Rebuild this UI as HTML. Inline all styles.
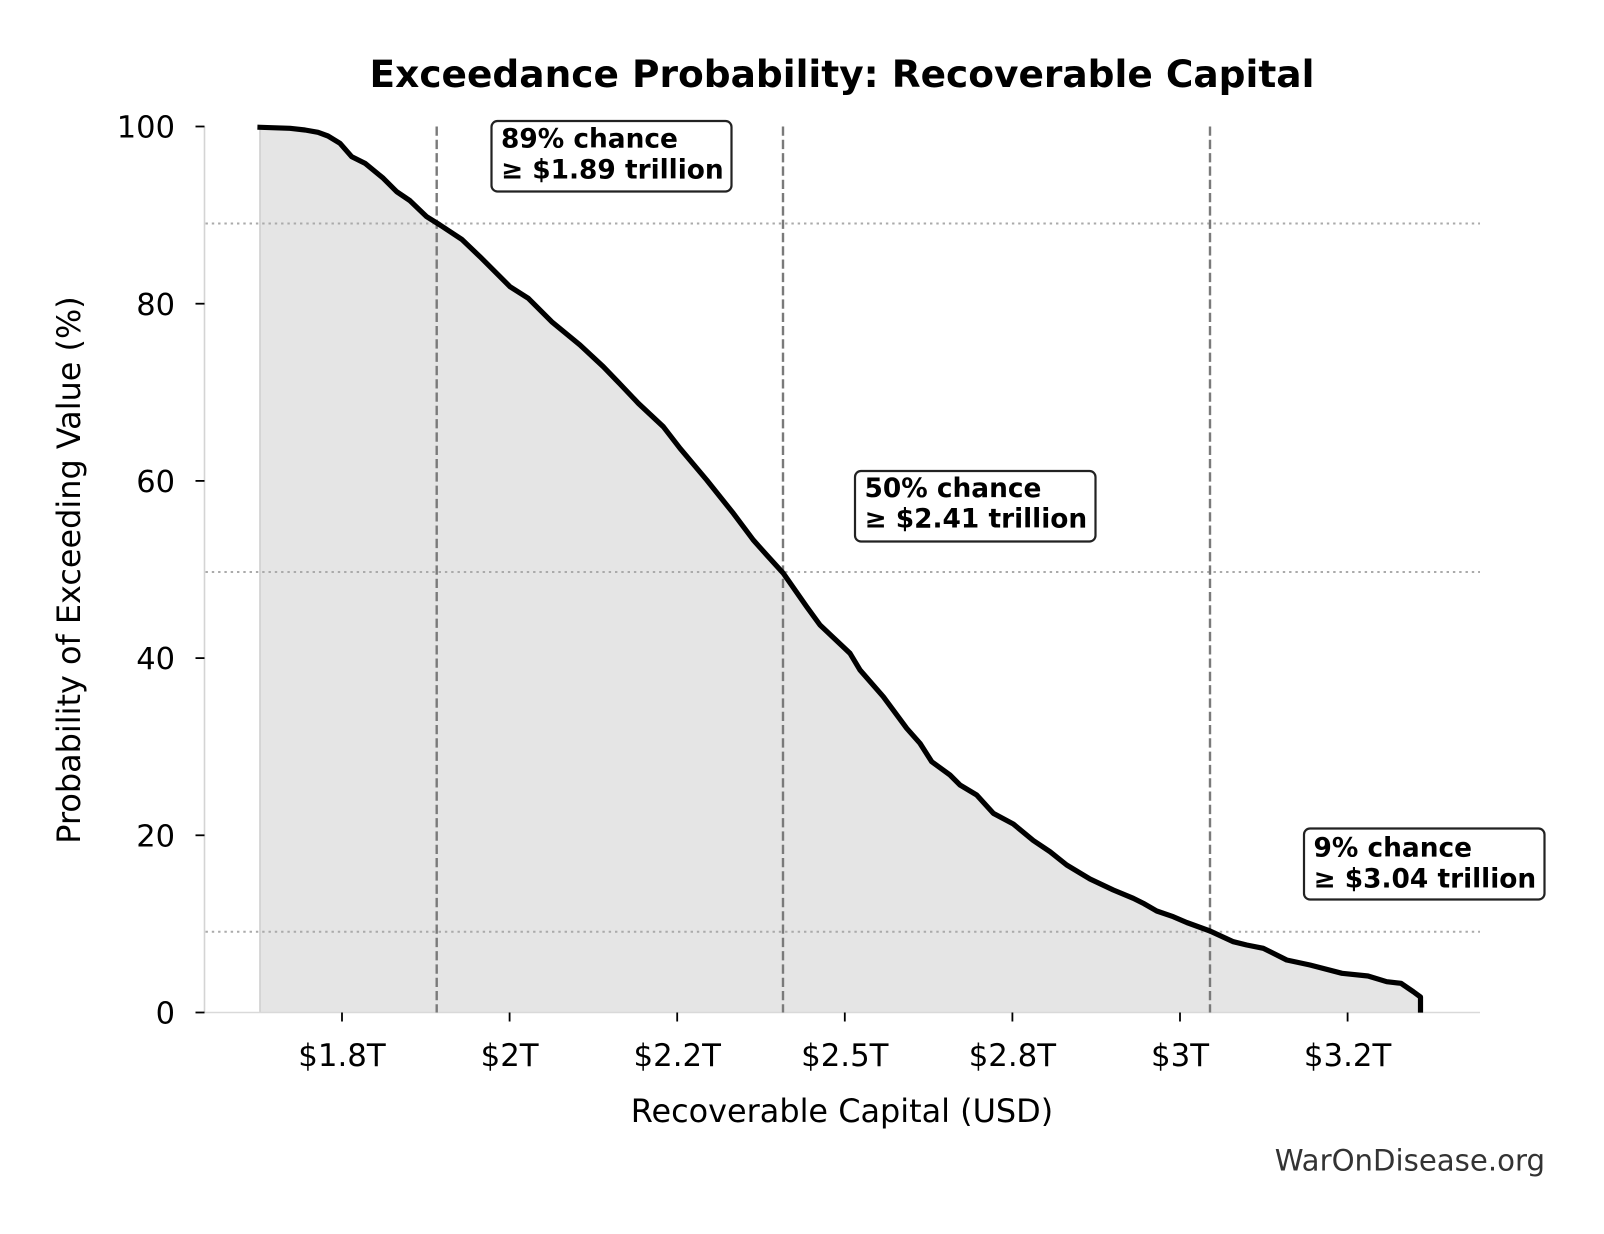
<!DOCTYPE html>
<html>
<head>
<meta charset="utf-8">
<style>
  html, body { margin: 0; padding: 0; background: #ffffff; }
  svg { display: block; }
  text { font-family: "DejaVu Sans", "Liberation Sans", sans-serif; fill: #000; }
</style>
</head>
<body>
<svg width="1604" height="1234" viewBox="0 0 1604 1234" xmlns="http://www.w3.org/2000/svg">
  <rect x="0" y="0" width="1604" height="1234" fill="#ffffff"/>

  <!-- Title -->
  <text x="842" y="87" text-anchor="middle" font-size="37.5" font-weight="bold">Exceedance Probability: Recoverable Capital</text>

  <!-- Fill under curve -->
  <path fill="#e5e5e5" stroke="none" d="M260,127.3 L290,128.3 L305,130 L318,132.3 L328,136 L340,143.3 L351.7,156.7 L365,163.3 L383.3,178.3 L396.7,191.7 L410,200.7 L426.7,216.7 L440,225 L461.7,239.3 L480,256.7 L510,286.7 L528.3,298.3 L551.7,321.7 L580,345 L603.3,366.7 L620,384 L638.3,403.3 L663.3,426.7 L680,448.3 L706.7,480 L733.3,513.3 L753.3,540 L766.7,555 L783.3,573.3 L806.7,606.7 L820,625 L850,653.3 L860,670 L883.3,696.7 L906.7,728.3 L920,743.3 L931.7,761.7 L950,775 L960,785 L976.7,795 L993.3,813.3 L1013.3,824 L1033.3,840.5 L1050,851.7 L1066.7,865 L1090,879 L1113.3,890 L1133.3,898.3 L1143.3,903.3 L1156.7,911 L1173.3,916.7 L1186.7,922.5 L1210,931 L1233.3,941.7 L1246.7,945 L1263.3,948.3 L1286.7,960 L1310,965 L1342,973.3 L1368,976 L1386.7,981.7 L1401,983.3 L1413.3,991.7 L1420.5,997 L1420.5,1012.5 L260,1012.5 Z"/>
  <!-- fill left edge -->
  <line x1="260" y1="127.5" x2="260" y2="1012.5" stroke="#cfcfcf" stroke-width="1.6"/>

  <!-- Spines -->
  <line x1="204.5" y1="126.5" x2="204.5" y2="1012.5" stroke="#d4d4d4" stroke-width="1.6"/>
  <line x1="204.5" y1="1012.5" x2="1480" y2="1012.5" stroke="#d9d9d9" stroke-width="1.6"/>

  <!-- Horizontal dotted reference lines -->
  <g stroke="#aaaaaa" stroke-width="2" stroke-dasharray="2.4 3.9">
    <line x1="205.5" y1="223.5" x2="1480" y2="223.5"/>
    <line x1="205.5" y1="572" x2="1480" y2="572"/>
    <line x1="205.5" y1="931.7" x2="1480" y2="931.7"/>
  </g>

  <!-- Vertical dashed lines -->
  <g stroke="#7a7a7a" stroke-width="2.4" stroke-dasharray="9.3 4">
    <line x1="436.7" y1="126.5" x2="436.7" y2="1012.5"/>
    <line x1="783" y1="126.5" x2="783" y2="1012.5"/>
    <line x1="1210" y1="126.5" x2="1210" y2="1012.5"/>
  </g>

  <!-- Curve -->
  <path fill="none" stroke="#000000" stroke-width="5.2" stroke-linejoin="round" stroke-linecap="square" d="M260,127.3 L290,128.3 L305,130 L318,132.3 L328,136 L340,143.3 L351.7,156.7 L365,163.3 L383.3,178.3 L396.7,191.7 L410,200.7 L426.7,216.7 L440,225 L461.7,239.3 L480,256.7 L510,286.7 L528.3,298.3 L551.7,321.7 L580,345 L603.3,366.7 L620,384 L638.3,403.3 L663.3,426.7 L680,448.3 L706.7,480 L733.3,513.3 L753.3,540 L766.7,555 L783.3,573.3 L806.7,606.7 L820,625 L850,653.3 L860,670 L883.3,696.7 L906.7,728.3 L920,743.3 L931.7,761.7 L950,775 L960,785 L976.7,795 L993.3,813.3 L1013.3,824 L1033.3,840.5 L1050,851.7 L1066.7,865 L1090,879 L1113.3,890 L1133.3,898.3 L1143.3,903.3 L1156.7,911 L1173.3,916.7 L1186.7,922.5 L1210,931 L1233.3,941.7 L1246.7,945 L1263.3,948.3 L1286.7,960 L1310,965 L1342,973.3 L1368,976 L1386.7,981.7 L1401,983.3 L1413.3,991.7 L1420.5,997 L1420.5,1010"/>

  <!-- Y ticks -->
  <g stroke="#000" stroke-width="1.8">
    <line x1="195.5" y1="126.5" x2="204.5" y2="126.5"/>
    <line x1="195.5" y1="303.7" x2="204.5" y2="303.7"/>
    <line x1="195.5" y1="480.9" x2="204.5" y2="480.9"/>
    <line x1="195.5" y1="658.1" x2="204.5" y2="658.1"/>
    <line x1="195.5" y1="835.3" x2="204.5" y2="835.3"/>
    <line x1="195.5" y1="1012.5" x2="204.5" y2="1012.5"/>
  </g>
  <g font-size="30.5" text-anchor="end">
    <text x="175" y="137.6">100</text>
    <text x="175" y="314.8">80</text>
    <text x="175" y="492">60</text>
    <text x="175" y="669.2">40</text>
    <text x="175" y="846.4">20</text>
    <text x="175" y="1023.6">0</text>
  </g>

  <!-- X ticks -->
  <g stroke="#000" stroke-width="1.8">
    <line x1="342" y1="1012.5" x2="342" y2="1021.5"/>
    <line x1="509.6" y1="1012.5" x2="509.6" y2="1021.5"/>
    <line x1="677.2" y1="1012.5" x2="677.2" y2="1021.5"/>
    <line x1="844.8" y1="1012.5" x2="844.8" y2="1021.5"/>
    <line x1="1012.4" y1="1012.5" x2="1012.4" y2="1021.5"/>
    <line x1="1180" y1="1012.5" x2="1180" y2="1021.5"/>
    <line x1="1347.6" y1="1012.5" x2="1347.6" y2="1021.5"/>
  </g>
  <g font-size="30.8" text-anchor="middle">
    <text x="342" y="1066">$1.8T</text>
    <text x="509.6" y="1066">$2T</text>
    <text x="677.2" y="1066">$2.2T</text>
    <text x="844.8" y="1066">$2.5T</text>
    <text x="1012.4" y="1066">$2.8T</text>
    <text x="1180" y="1066">$3T</text>
    <text x="1347.6" y="1066">$3.2T</text>
  </g>

  <!-- Axis labels -->
  <text x="842" y="1122" text-anchor="middle" font-size="31.9">Recoverable Capital (USD)</text>
  <text transform="translate(80,570) rotate(-90)" text-anchor="middle" font-size="31.9">Probability of Exceeding Value (%)</text>

  <!-- Annotation boxes -->
  <g fill="#ffffff" stroke="#222222" stroke-width="2.2">
    <rect x="491.5" y="121" width="240" height="70.5" rx="6" ry="6"/>
    <rect x="855" y="471" width="240.5" height="70.5" rx="6" ry="6"/>
    <rect x="1304" y="828.5" width="240.5" height="71" rx="6" ry="6"/>
  </g>
  <g font-size="26.4" font-weight="bold">
    <text x="501" y="147.7">89% chance</text>
    <text x="501" y="178.3">≥ $1.89 trillion</text>
    <text x="864.5" y="497">50% chance</text>
    <text x="864.5" y="527.5">≥ $2.41 trillion</text>
    <text x="1313.5" y="856.7">9% chance</text>
    <text x="1313.5" y="887.3">≥ $3.04 trillion</text>
  </g>

  <!-- Watermark -->
  <text x="1545" y="1170.7" text-anchor="end" font-size="29.2" style="fill:#333333">WarOnDisease.org</text>
</svg>
</body>
</html>
